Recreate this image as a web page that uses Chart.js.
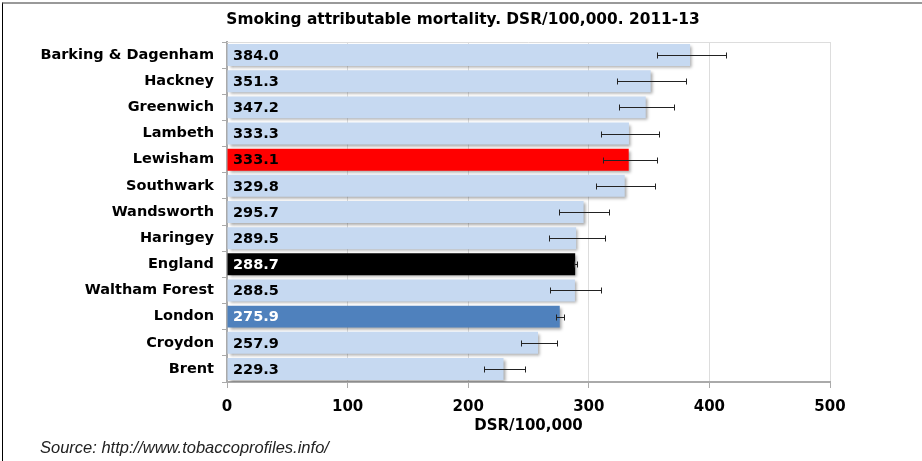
<!DOCTYPE html>
<html>
<head>
<meta charset="utf-8">
<script src="https://cdn.jsdelivr.net/npm/chart.js@4"></script>
<style>
  html, body { margin: 0; padding: 0; background: #fff; }
  #wrap { position: relative; width: 922px; height: 461px; overflow: hidden; }
  #frame { position: absolute; left: 2px; top: 2px; right: 0; bottom: 0;
           border-left: 1px solid #000; border-top: 2px solid #999; pointer-events: none; }
  #titulo { position: absolute; left: 2px; top: 10px; width: 922px; text-align: center;
            font: bold 15.4px "DejaVu Sans", sans-serif; color: #000; }
  #fuente { position: absolute; left: 40px; top: 438px;
            font: italic 16.5px "Liberation Sans", sans-serif; color: #222; }
</style>
</head>
<body>
<div id="wrap">
  <canvas id="chart-smoking" width="922" height="461"></canvas>
  <div id="titulo">Smoking attributable mortality. DSR/100,000. 2011-13</div>
  <div id="fuente">Source: http://www.tobaccoprofiles.info/</div>
  <div id="frame"></div>
</div>
<script>
/* ── Datos ── */
const areas = ['Barking & Dagenham', 'Hackney', 'Greenwich', 'Lambeth', 'Lewisham', 'Southwark',
  'Wandsworth', 'Haringey', 'England', 'Waltham Forest', 'London', 'Croydon', 'Brent'];
const valores = [384.0, 351.3, 347.2, 333.3, 333.1, 329.8, 295.7, 289.5, 288.7, 288.5, 275.9, 257.9, 229.3];
const ciBajo = [356.6, 323.7, 324.8, 310.1, 311.5, 306.0, 275.6, 267.3, 287.6, 268.1, 272.5, 243.5, 212.8];
const ciAlto = [413.5, 380.9, 370.6, 357.9, 356.3, 355.2, 317.1, 313.8, 289.9, 310.4, 279.4, 273.6, 247.1];
const ticksX = [0, 100, 200, 300, 400, 500];

/* ── Colores ── */
const colorBase = '#c6d9f1';
const colorEspecial = { 'Lewisham': '#ff0000', 'England': '#000000', 'London': '#4f81bd' };
const colorTextoBlanco = ['England', 'London'];

const barColors = areas.map(a => colorEspecial[a] || colorBase);

/* ── Plugin: sombra, barras de error y etiquetas ── */
const extras = {
  id: 'extras',
  beforeDatasetsDraw(chart) {
    const ctx = chart.ctx;
    ctx.save();
    ctx.shadowColor = 'rgba(0,0,0,0.35)';
    ctx.shadowOffsetX = 2;
    ctx.shadowOffsetY = 2;
    ctx.shadowBlur = 3;
  },
  afterDatasetsDraw(chart) {
    const ctx = chart.ctx;
    ctx.restore();
    const x = chart.scales.x;
    const meta = chart.getDatasetMeta(0);
    const area = chart.chartArea;

    // borde superior del área
    ctx.save();
    ctx.strokeStyle = '#dddddd';
    ctx.lineWidth = 1;
    ctx.beginPath();
    ctx.moveTo(area.left, area.top + 0.5);
    ctx.lineTo(area.right, area.top + 0.5);
    ctx.stroke();

    // barras de error
    ctx.strokeStyle = '#222';
    meta.data.forEach((bar, i) => {
      const x1 = Math.round(x.getPixelForValue(ciBajo[i])) + 0.5;
      const x2 = Math.round(x.getPixelForValue(ciAlto[i])) + 0.5;
      const y = Math.round(bar.y) + 0.5;
      ctx.beginPath();
      ctx.moveTo(x1, y); ctx.lineTo(x2, y);
      ctx.moveTo(x1, y - 3); ctx.lineTo(x1, y + 3);
      ctx.moveTo(x2, y - 3); ctx.lineTo(x2, y + 3);
      ctx.stroke();
    });

    // etiquetas de valor
    ctx.font = 'bold 14.5px "DejaVu Sans", sans-serif';
    ctx.textBaseline = 'middle';
    ctx.textAlign = 'left';
    meta.data.forEach((bar, i) => {
      ctx.fillStyle = colorTextoBlanco.includes(areas[i]) ? '#ffffff' : '#000000';
      ctx.fillText(valores[i].toFixed(1), area.left + 6, bar.y + 1);
    });
    ctx.restore();
  }
};

new Chart(document.getElementById('chart-smoking').getContext('2d'), {
  type: 'bar',
  data: {
    labels: areas,
    datasets: [{
      data: valores,
      backgroundColor: barColors,
      borderWidth: 0,
      barPercentage: 0.84,
      categoryPercentage: 1,
    }]
  },
  plugins: [extras],
  options: {
    indexAxis: 'y',
    responsive: false,
    animation: false,
    layout: { padding: { top: 42, right: 92, bottom: 26, left: 0 } },
    plugins: {
      legend: { display: false },
      tooltip: { enabled: false },
    },
    scales: {
      x: {
        min: 0, max: 500,
        afterBuildTicks: s => { s.ticks = ticksX.map(v => ({ value: v })); },
        afterFit: s => { s.height = 53; },
        ticks: { color: '#000', font: { family: 'DejaVu Sans', size: 15, weight: 'bold', lineHeight: 1 }, padding: 12 },
        grid: { color: '#dddddd', tickLength: 6, tickColor: '#aaaaaa' },
        border: { color: '#aaaaaa', width: 2 },
        title: { display: true, text: 'DSR/100,000', color: '#000',
                 font: { family: 'DejaVu Sans', size: 15, weight: 'bold' }, padding: { top: 0, bottom: 0 } },
      },
      y: {
        afterFit: s => { s.width = 227; },
        ticks: { color: '#000', font: { family: 'DejaVu Sans', size: 14.5, weight: 'bold' }, padding: 8 },
        grid: { drawOnChartArea: false, tickLength: 5, tickColor: '#aaaaaa', offset: true },
        border: { color: '#aaaaaa', width: 2 },
      }
    }
  }
});
</script>
</body>
</html>
